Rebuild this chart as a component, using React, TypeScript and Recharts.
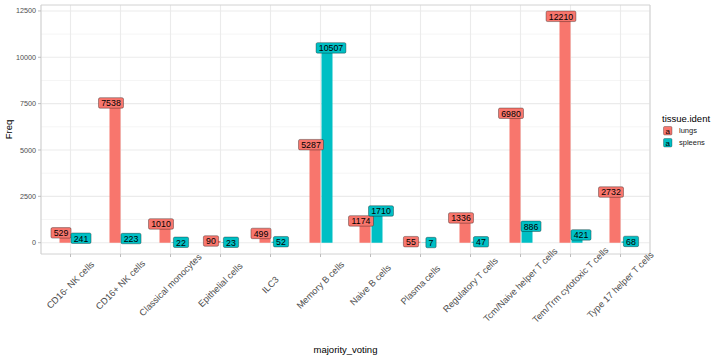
import { Bar, BarChart, CartesianGrid, LabelList, Legend, XAxis, YAxis } from "recharts";

const categories = [
  "CD16- NK cells",
  "CD16+ NK cells",
  "Classical monocytes",
  "Epithelial cells",
  "ILC3",
  "Memory B cells",
  "Naive B cells",
  "Plasma cells",
  "Regulatory T cells",
  "Tcm/Naive helper T cells",
  "Tem/Trm cytotoxic T cells",
  "Type 17 helper T cells"
];
const lungs = [529, 7538, 1010, 90, 499, 5287, 1174, 55, 1336, 6980, 12210, 2732];
const spleens = [241, 223, 22, 23, 52, 10507, 1710, 7, 47, 886, 421, 68];
const majorTicks = [0, 2500, 5000, 7500, 10000, 12500];
const minorTicks = [1250, 3750, 6250, 8750, 11250];
const yDomain: [number, number] = [-610.5, 12820.5];

const data = categories.map((category, i) => ({ category, lungs: lungs[i], spleens: spleens[i] }));

const font = "'Liberation Sans', Arial, Helvetica, sans-serif";
const RED = "#F8766D";
const CYAN = "#00BFC4";

function makeLabel(fill: string, shift: number) {
  return (props: any) => {
    const { x, y, width, value } = props;
    const text = String(value);
    const w = text.length * 4.9 + 5.4;
    const h = 10.5;
    const cx = Number(x) + Number(width) / 2 + shift;
    const cy = Number(y);
    return (
      <g>
        <rect x={cx - w / 2} y={cy - h / 2} width={w} height={h} rx={1.5} fill={fill} stroke="rgba(0,0,0,0.55)" strokeWidth={0.6} />
        <text x={cx} y={cy + 0.3} textAnchor="middle" dominantBaseline="central" fontSize={8.8} fill="#000">
          {text}
        </text>
      </g>
    );
  };
}

function XTick(props: any) {
  const { x, y, payload } = props;
  return (
    <text transform={`translate(${x},${y + 26}) rotate(-45)`} textAnchor="middle" dominantBaseline="central" fontSize={9.2} fill="#4D4D4D">
      {payload.value}
    </text>
  );
}

function LegendBox() {
  const items = [
    { name: "lungs", color: RED },
    { name: "spleens", color: CYAN }
  ];
  return (
    <div style={{ fontFamily: font }}>
      <div style={{ fontSize: 9.5, lineHeight: "12px", color: "#000" }}>tissue.ident</div>
      {items.map((item) => (
        <div key={item.name} style={{ display: "flex", alignItems: "center", height: 11.5 }}>
          <svg width={12} height={11.5} style={{ display: "block" }}>
            <rect x={1.5} y={1.5} width={8.5} height={8.5} rx={1.2} fill={item.color} stroke="rgba(0,0,0,0.55)" strokeWidth={0.5} />
            <text x={5.75} y={6} textAnchor="middle" dominantBaseline="central" fontSize={8} fill="#000">a</text>
          </svg>
          <span style={{ fontSize: 7.5, marginLeft: 5, color: "#1A1A1A" }}>{item.name}</span>
        </div>
      ))}
    </div>
  );
}

export default function App() {
  return (
    <div style={{ width: 720, height: 360, fontFamily: font, position: "relative" }}>
      <style>{"body{margin:0}"}</style>
      <BarChart width={720} height={360} data={data} margin={{ top: 5, right: 70, bottom: 0, left: 0 }} barGap={1}>
        <CartesianGrid horizontalValues={minorTicks} vertical={false} stroke="#F3F3F3" strokeWidth={0.8} />
        <CartesianGrid horizontalValues={majorTicks} stroke="#EBEBEB" strokeWidth={1.1} />
        <CartesianGrid
          stroke="#D2D2D2"
          strokeWidth={1}
          horizontalCoordinatesGenerator={({ offset }: any) => [offset.top, offset.top + offset.height]}
          verticalCoordinatesGenerator={({ offset }: any) => [offset.left, offset.left + offset.width]}
        />
        <XAxis
          dataKey="category"
          type="category"
          interval={0}
          height={106}
          padding={{ left: 4.5, right: 4.5 }}
          axisLine={false}
          tickSize={3}
          tickMargin={2}
          tickLine={{ stroke: "#BDBDBD" }}
          tick={<XTick />}
          label={(props: any) => {
            const vb = props.viewBox;
            return (
              <text x={vb.x + vb.width / 2} y={vb.y + vb.height - 7} textAnchor="middle" fontSize={9.5} fill="#000">
                majority_voting
              </text>
            );
          }}
        />
        <YAxis
          type="number"
          width={41}
          domain={yDomain}
          allowDataOverflow
          ticks={majorTicks}
          tickFormatter={(v: number) => String(v)}
          axisLine={false}
          tickSize={3}
          tickMargin={2}
          tickLine={{ stroke: "#BDBDBD" }}
          tick={{ fontSize: 7.2, fill: "#4D4D4D" }}
          label={(props: any) => {
            const vb = props.viewBox;
            const cy = vb.y + vb.height / 2;
            return (
              <text transform={`translate(8,${cy}) rotate(-90)`} textAnchor="middle" dominantBaseline="central" fontSize={9.5} fill="#000">
                Freq
              </text>
            );
          }}
        />
        <Legend
          layout="horizontal"
          verticalAlign="middle"
          align="center"
          wrapperStyle={{ left: 662, top: 113, width: 58 }}
          content={() => <LegendBox />}
        />
        <Bar dataKey="lungs" name="lungs" fill={RED} barSize={11} isAnimationActive={false}>
          <LabelList dataKey="lungs" content={makeLabel(RED, -4)} />
        </Bar>
        <Bar dataKey="spleens" name="spleens" fill={CYAN} barSize={11} isAnimationActive={false}>
          <LabelList dataKey="spleens" content={makeLabel(CYAN, 4)} />
        </Bar>
      </BarChart>
    </div>
  );
}
